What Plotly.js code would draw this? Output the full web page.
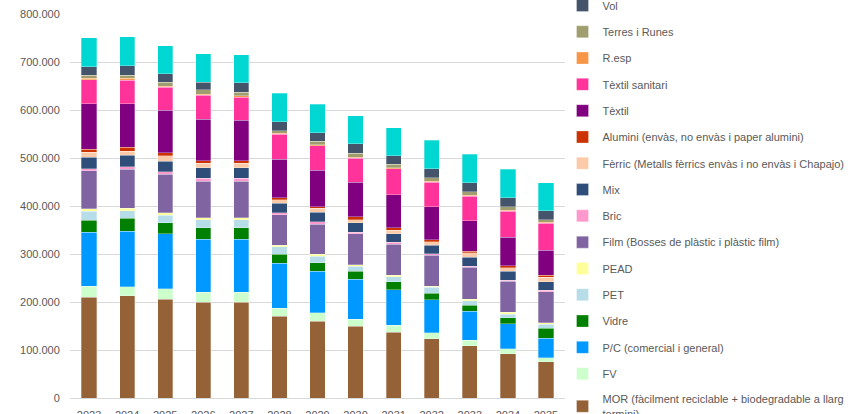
<!DOCTYPE html>
<html><head><meta charset="utf-8">
<script src="https://cdn.plot.ly/plotly-3.0.1.min.js"></script>
<style>html,body{margin:0;padding:0;background:#fff;}#chart{width:850px;height:414px;}</style>
</head><body><div id="chart"></div>
<script>
const years = ['2023','2024','2025','2026','2027','2028','2029','2030','2031','2032','2033','2034','2035'];
const MOR = [210400,213200,206200,200000,200000,170100,159700,149300,136800,123600,109000,92400,75700];
const FV = [22200,18700,20900,20800,20800,17400,17400,14600,14600,12500,11100,10400,8300];
const PC = [113200,116000,114600,110400,110400,93000,86800,83300,74300,68100,61100,51400,40300];
const Vidre = [25000,27100,22900,23000,23000,18800,18000,16700,16700,14500,12500,12500,20800];
const PET = [18100,15300,16600,17300,17300,15300,13200,10400,10400,12500,9100,8300,8400];
const PEAD = [5500,5500,4900,4200,4200,3400,4200,3500,3400,1400,3400,3500,3400];
const Film = [79200,80600,79900,76300,76300,63900,63200,63900,63900,64600,66700,65200,64600];
const Bric = [4200,5500,5500,5600,5600,4200,4900,4100,4200,3500,2100,2100,3500];
const Mix = [23600,24300,21500,21600,21600,19400,19400,18800,17400,17300,18700,18100,17400];
const Ferric = [11100,7700,11800,9700,9700,7700,8300,6900,8300,7700,8400,7600,9000];
const Alumini = [6200,9000,6300,5500,5500,4200,3500,5600,4800,4200,3500,4200,4100];
const Textil = [94500,90300,88200,86100,84100,80500,76400,72200,68800,68700,63800,59700,52800];
const TextilSan = [50000,49300,48600,50700,48500,51400,50700,50700,53500,50700,50700,53500,55600];
const Resp = [2800,3800,2100,2100,2200,2100,2100,2000,2100,2100,2100,2100,2100];
const Terres = [6000,6200,7600,8400,8300,5500,7600,7700,7600,7600,7700,7600,5500];
const Vol = [18000,19400,18100,16600,19400,18800,17400,19500,18000,18100,18700,18800,18800];
const Altres = [60700,61100,58300,59000,58400,59000,59000,59000,58400,60400,59700,59000,58300];

const series = [
  ['MOR (fàcilment reciclable + biodegradable a llarg<br>termini)', MOR, '#956137'],
  ['FV', FV, '#ccffcc'],
  ['P/C (comercial i general)', PC, '#0099ff'],
  ['Vidre', Vidre, '#008000'],
  ['PET', PET, '#b7dee8'],
  ['PEAD', PEAD, '#ffff99'],
  ['Film (Bosses de plàstic i plàstic film)', Film, '#8064a2'],
  ['Bric', Bric, '#ff99cc'],
  ['Mix', Mix, '#2e4d78'],
  ['Fèrric (Metalls fèrrics envàs i no envàs i Chapajo)', Ferric, '#fbcaa8'],
  ['Alumini (envàs, no envàs i paper alumini)', Alumini, '#cc3300'],
  ['Tèxtil', Textil, '#800080'],
  ['Tèxtil sanitari', TextilSan, '#ff3399'],
  ['R.esp', Resp, '#f79646'],
  ['Terres i Runes', Terres, '#a09d6e'],
  ['Vol', Vol, '#44546a'],
  ['Altres', Altres, '#00d6d2']
];

const traces = series.map((s, i) => ({
  type: 'bar', name: s[0], x: years, y: s[1],
  marker: {color: s[2], line: {color: 'rgba(255,255,255,0.5)', width: 0.6}},
  legendgroup: 'g' + i,
  legendrank: 1000 - i,
  showlegend: s[0] !== 'Altres',
  hoverinfo: 'name+y'
}));

const layout = {
  width: 850, height: 414,
  barmode: 'stack', bargap: 0.6,
  separators: ',.',
  margin: {l: 70, r: 285, t: 14, b: 16, autoexpand: false},
  paper_bgcolor: '#fff', plot_bgcolor: '#fff',
  font: {family: 'Liberation Sans, Arial, sans-serif', size: 11, color: '#595959'},
  xaxis: {type: 'category', showgrid: false, showline: false, ticks: '', ticklabelstandoff: 9,
          tickfont: {size: 11, color: '#595959'}},
  yaxis: {range: [0, 800000], dtick: 100000, tickformat: ',d', gridcolor: '#d9d9d9', gridwidth: 1,
          zeroline: true, zerolinecolor: '#d9d9d9', tickfont: {size: 11, color: '#595959'}, ticksuffix: '   '},
  legend: {x: 0.995, xanchor: 'left', y: 1.06, yanchor: 'top', traceorder: 'grouped',
           tracegroupgap: 7.3, font: {size: 11, color: '#595959'}, itemwidth: 30,
           bgcolor: 'rgba(0,0,0,0)', maxheight: 600},
  showlegend: true
};

Plotly.newPlot('chart', traces, layout, {staticPlot: true, displayModeBar: false});
</script>
</body></html>
